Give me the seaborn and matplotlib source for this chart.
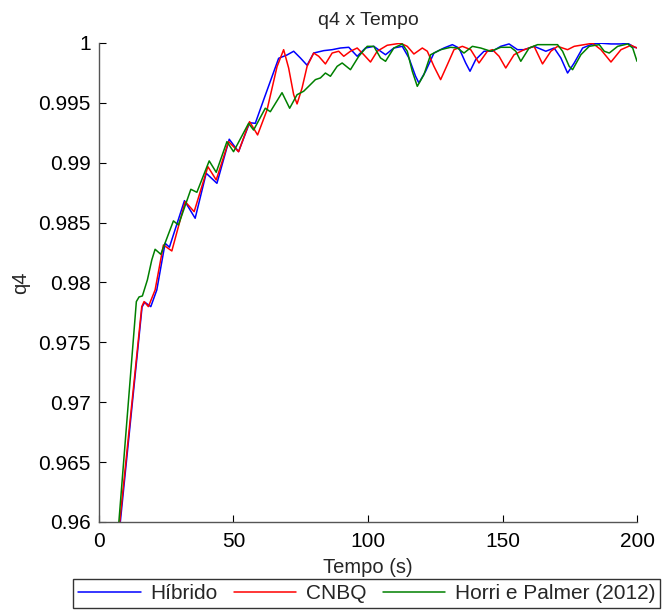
import matplotlib
matplotlib.use("Agg")
import matplotlib.pyplot as plt
import seaborn as sns
import pandas as pd
from matplotlib.lines import Line2D

# ---- data ----
t_hibrido = [5.0, 7.93, 16.01, 17.02, 19.26, 21.49, 24.58, 26.18, 31.77, 35.75, 39.85, 43.84,
             48.42, 51.88, 55.98, 58.10, 61.19, 64.32, 66.78, 69.91, 72.37, 74.86, 77.36, 79.81,
             83.54, 86.67, 89.76, 92.85, 95.98, 99.07, 102.16, 104.66, 106.52, 109.61, 112.74,
             115.20, 117.69, 118.92, 121.42, 124.51, 128.23, 131.36, 133.82, 136.31, 137.92,
             140.04, 143.13, 146.26, 149.35, 152.44, 155.57, 158.03, 161.75, 166.11, 169.20,
             171.69, 174.19, 176.65, 179.78, 183.50, 186.59, 190.32, 194.04, 196.54, 199.0, 200.0]
q_hibrido = [0.9535, 0.9600, 0.97795, 0.97835, 0.97798, 0.97937, 0.98327, 0.98294, 0.98683,
             0.98536, 0.98912, 0.98828, 0.99196, 0.99092, 0.99334, 0.99329, 0.99524, 0.99719,
             0.99872, 0.99900, 0.99931, 0.99875, 0.99814, 0.99916, 0.99936, 0.99944, 0.99958,
             0.99964, 0.99889, 0.99958, 0.99972, 0.99931, 0.99902, 0.99958, 0.99972, 0.99875,
             0.99722, 0.99666, 0.99764, 0.99916, 0.99958, 0.99986, 0.99958, 0.99833, 0.99764,
             0.99861, 0.99931, 0.99931, 0.99972, 0.99992, 0.99944, 0.99944, 0.99972, 0.99931,
             0.99958, 0.99875, 0.99749, 0.99833, 0.99958, 0.99992, 0.99998, 0.99992, 0.99992,
             0.99998, 0.99964, 0.9996]

t_cnbq = [5.0, 7.71, 15.90, 16.76, 18.36, 20.86, 23.95, 27.08, 32.03, 35.38, 40.48, 43.58,
          48.16, 51.88, 55.98, 58.96, 62.46, 66.18, 68.64, 70.50, 72.37, 73.63, 75.49, 77.36,
          79.81, 81.68, 84.17, 86.67, 89.12, 90.99, 93.48, 95.98, 98.44, 100.93, 103.43,
          107.15, 112.10, 114.60, 117.06, 120.19, 122.05, 124.51, 127.00, 129.50, 131.96,
          135.08, 138.18, 141.27, 144.39, 146.26, 148.72, 151.21, 154.30, 158.03, 161.75,
          164.88, 167.97, 170.47, 174.19, 176.65, 180.37, 183.50, 186.59, 190.32, 194.04,
          197.77, 200.0]
q_cnbq = [0.9540, 0.9600, 0.97798, 0.97840, 0.97798, 0.97937, 0.98313, 0.98263, 0.98675,
          0.98591, 0.98967, 0.98856, 0.99176, 0.99092, 0.99343, 0.99232, 0.99440, 0.99802,
          0.99944, 0.99791, 0.99568, 0.99491, 0.99624, 0.99805, 0.99916, 0.99889, 0.99825,
          0.99916, 0.99931, 0.99889, 0.99931, 0.99958, 0.99902, 0.99841, 0.99931, 0.99981,
          0.99998, 0.99972, 0.99908, 0.99958, 0.99931, 0.99805, 0.99694, 0.99819, 0.99944,
          0.99972, 0.99944, 0.99833, 0.99931, 0.99944, 0.99889, 0.99791, 0.99902, 0.99944,
          0.99972, 0.99825, 0.99931, 0.99972, 0.99944, 0.99972, 0.99986, 0.99998, 0.99944,
          0.99841, 0.99944, 0.99981, 0.99958]

t_horri = [6.0, 7.45, 13.89, 14.90, 16.13, 17.99, 19.63, 20.86, 22.98, 27.67, 29.53, 34.15,
           36.39, 40.97, 43.58, 47.56, 50.02, 55.61, 57.47, 61.82, 63.69, 68.04, 70.88, 73.63,
           76.09, 77.95, 80.45, 82.31, 84.17, 86.03, 88.53, 90.39, 93.48, 96.57, 99.70, 102.16,
           104.66, 106.52, 109.61, 112.74, 114.60, 116.46, 118.32, 120.78, 123.28, 127.00,
           130.73, 133.22, 135.68, 138.81, 141.90, 145.62, 149.35, 153.07, 154.93, 156.80,
           159.89, 163.02, 166.74, 170.47, 172.33, 174.79, 176.05, 179.14, 182.23, 185.96,
           187.82, 189.68, 192.81, 196.54, 198.40, 200.0]
q_horri = [0.95607, 0.96017, 0.97840, 0.97879, 0.97887, 0.98021, 0.98188, 0.98277, 0.98235,
           0.98514, 0.98480, 0.98778, 0.98753, 0.99015, 0.98920, 0.99176, 0.99092, 0.99329,
           0.99273, 0.99455, 0.99426, 0.99585, 0.99455, 0.99568, 0.99597, 0.99638, 0.99694,
           0.99708, 0.99749, 0.99722, 0.99805, 0.99833, 0.99777, 0.99889, 0.99972, 0.99972,
           0.99875, 0.99847, 0.99958, 0.99992, 0.99931, 0.99764, 0.99638, 0.99735, 0.99902,
           0.99944, 0.99964, 0.99958, 0.99916, 0.99972, 0.99958, 0.99931, 0.99964, 0.99964,
           0.99931, 0.99847, 0.99958, 0.99986, 0.99986, 0.99986, 0.99931, 0.99805, 0.99777,
           0.99902, 0.99972, 0.99986, 0.99931, 0.99916, 0.99972, 0.99992, 0.99958, 0.99847]

series_names = ["Híbrido", "CNBQ", "Horri e Palmer (2012)"]
series_colors = ["#0000ff", "#ff0000", "#008000"]
x_ticks = [0, 50, 100, 150, 200]
y_ticks = [0.96, 0.965, 0.97, 0.975, 0.98, 0.985, 0.99, 0.995, 1.0]
y_tick_labels = ["0.96", "0.965", "0.97", "0.975", "0.98", "0.985", "0.99", "0.995", "1"]

# ---- build long-form table ----
frames = []
for name, t, q in zip(series_names, [t_hibrido, t_cnbq, t_horri],
                      [q_hibrido, q_cnbq, q_horri]):
    frames.append(pd.DataFrame({"Tempo": t, "q4": q, "serie": name}))
df = pd.concat(frames, ignore_index=True)

sns.set_style("white")
plt.rcParams["font.family"] = ["Liberation Sans", "DejaVu Sans"]

fig = plt.figure(figsize=(6.63, 6.14), dpi=100)
ax = fig.add_axes([0.1493, 0.150, 0.8115, 0.780])

sns.lineplot(data=df, x="Tempo", y="q4", hue="serie", hue_order=series_names,
             palette=series_colors, estimator=None, sort=True, linewidth=1.1,
             ax=ax, legend=False)
for ln in ax.lines:
    ln.set_solid_joinstyle("round")

ax.set_xlim(0, 200)
ax.set_ylim(0.96, 1.0)
ax.set_xticks(x_ticks)
ax.set_xticklabels([str(v) for v in x_ticks])
ax.set_yticks(y_ticks)
ax.set_yticklabels(y_tick_labels)

fs = 15
ax.tick_params(direction="in", length=5, width=0.8, labelsize=fs, colors="black",
               bottom=True, left=True, top=False, right=False, pad=6)
ax.tick_params(axis="x", pad=7)
for side in ["top", "right"]:
    ax.spines[side].set_visible(False)
for side in ["left", "bottom"]:
    ax.spines[side].set_color("#555555")
    ax.spines[side].set_linewidth(1.0)

ax.set_title("q4 x Tempo", fontsize=14, pad=13)
ax.set_xlabel("Tempo (s)", fontsize=14.5, labelpad=5)
ax.set_ylabel("q4", fontsize=14.5, labelpad=6)

handles = [Line2D([0], [0], color=c, lw=1.1) for c in series_colors]
leg = fig.legend(handles, series_names, loc="center", ncol=3,
                 bbox_to_anchor=(0.553, 0.033), fontsize=fs, frameon=True,
                 fancybox=False, edgecolor="black", handlelength=3.0,
                 handletextpad=0.45, columnspacing=0.8, borderpad=0.25,
                 borderaxespad=0)
leg.get_frame().set_linewidth(1.0)

fig.savefig("out.png", dpi=100)
